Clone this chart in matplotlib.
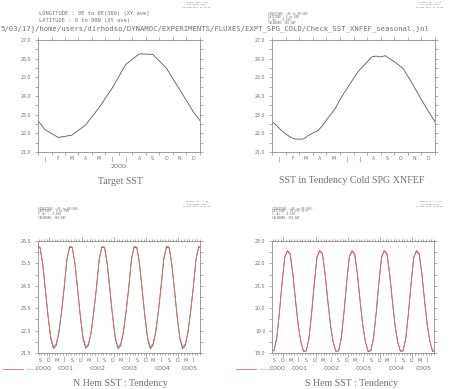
import numpy as np
import matplotlib
matplotlib.use('Agg')
import matplotlib.pyplot as plt
from matplotlib.ticker import MultipleLocator
from matplotlib.transforms import blended_transform_factory, offset_copy
from matplotlib.lines import Line2D

# ---------------- data ----------------
months = ['J', 'F', 'M', 'A', 'M', 'J', 'J', 'A', 'S', 'O', 'N', 'D']
# Target SST (N Hem climatology, mid-month values) and value at year boundary
target_nh = [22.21, 21.78, 21.90, 22.43, 23.35, 24.43, 25.69, 26.26, 26.23, 25.50, 24.34, 23.16]
target_nh_edge = 22.68
# SST in Tendency Cold SPG XNFEF (every 1/3 month, Jan 1 -> Dec 31)
tend_sst = [22.62, 22.43, 22.17, 21.97, 21.81, 21.70, 21.69, 21.70, 21.88, 22.02,
            22.12, 22.36, 22.71, 23.02, 23.35, 23.80, 24.19, 24.56, 24.94, 25.30,
            25.57, 25.82, 26.09, 26.14, 26.09, 26.16, 26.00, 25.84, 25.66, 25.46,
            25.06, 24.66, 24.23, 23.80, 23.40, 22.99, 22.62]
# S Hem target climatology (mid-month)
target_sh = [22.30, 22.58, 22.45, 21.55, 20.35, 19.25, 18.50, 18.08, 18.10, 18.65, 19.80, 21.15]

# Model (tendency) monthly series, Jul 0000 .. Oct 0005
model_nh = [25.66, 26.22, 26.20, 25.47, 24.31, 23.12,
            22.14, 21.70, 21.83, 22.40, 23.33, 24.42, 25.67, 26.23, 26.20, 25.48, 24.31, 23.13,
            22.13, 21.71, 21.84, 22.40, 23.34, 24.41, 25.68, 26.22, 26.21, 25.47, 24.32, 23.12,
            22.14, 21.70, 21.83, 22.41, 23.33, 24.42, 25.67, 26.23, 26.20, 25.48, 24.31, 23.13,
            22.13, 21.69, 21.84, 22.40, 23.34, 24.42, 25.68, 26.22, 26.21, 25.47, 24.31, 23.12,
            22.14, 21.70, 21.83, 22.41, 23.33, 24.41, 25.67, 26.23, 26.20, 25.48]
model_sh = [18.52, 18.10, 18.12, 18.66, 19.78, 21.12,
            22.28, 22.55, 22.40, 21.52, 20.33, 19.24, 18.49, 18.07, 18.09, 18.64, 19.79, 21.13,
            22.27, 22.56, 22.41, 21.53, 20.34, 19.23, 18.48, 18.08, 18.09, 18.65, 19.78, 21.12,
            22.28, 22.55, 22.40, 21.52, 20.33, 19.24, 18.49, 18.07, 18.10, 18.64, 19.79, 21.13,
            22.27, 22.56, 22.41, 21.53, 20.34, 19.24, 18.48, 18.08, 18.09, 18.65, 19.78, 21.12,
            22.28, 22.55, 22.40, 21.52, 20.33, 19.24, 18.49, 18.07, 18.09, 18.64]
first_month = -6          # Jul 0000 relative to Jan 0001
time_lim = (-4.25, 56.0)  # months relative to Jan 0001
years = ['0000', '0001', '0002', '0003', '0004', '0005']
qmonths = ['S', 'D', 'M', 'J']

# ---------------- figure ----------------
W, H = 452, 389
fig = plt.figure(figsize=(W / 100, H / 100), dpi=100)
TXT = '#707070'
AXC = '#8c8c8c'
LINE = '#585858'
RED = '#e07070'


def axes_px(x0, y0, x1, y1):
    return fig.add_axes([x0 / W, 1 - y1 / H, (x1 - x0) / W, (y1 - y0) / H])


def ftext(x, y, s, size, ha='left', va='center', family='DejaVu Sans', **kw):
    fig.text(x / W, 1 - y / H, s, fontsize=size, ha=ha, va=va, color=TXT,
             family=family, **kw)


def style(ax, ymin, ymax):
    for sp in ax.spines.values():
        sp.set_color(AXC)
        sp.set_linewidth(0.6)
    ax.set_ylim(ymin, ymax)
    ax.set_yticks(np.arange(ymin, ymax + 0.01, 1.0))
    ax.set_yticklabels(['%.1f' % v for v in np.arange(ymin, ymax + 0.01, 1.0)])
    ax.yaxis.set_minor_locator(MultipleLocator(0.5))
    ax.tick_params(which='both', direction='out', colors=AXC, labelcolor=TXT,
                   labelsize=3.4, width=0.5, top=True, right=True, pad=2.2)
    ax.tick_params(which='major', length=2.5)
    ax.tick_params(which='minor', length=2.0)


def below(ax, x, s, dy, size, family='DejaVu Sans'):
    tr = offset_copy(blended_transform_factory(ax.transData, ax.transAxes),
                     fig=fig, x=0, y=-dy, units='dots')
    ax.text(x, 0, s, transform=tr, ha='center', va='center', fontsize=size,
            color=TXT, family=family, clip_on=False)


# ---- top-left: Target SST ----
ax1 = axes_px(38, 40, 200, 152)
x1 = [0] + list(np.arange(0.5, 12)) + [12]
ax1.plot(x1, [target_nh_edge] + target_nh + [target_nh_edge], color=LINE, lw=0.6)
ax1.set_xlim(0, 12)
style(ax1, 21.0, 27.0)
ax1.set_xticks(np.arange(13))
ax1.set_xticklabels([])
ax1.xaxis.set_minor_locator(MultipleLocator(100))
for i, m in enumerate(months):
    below(ax1, i + 0.5, m, 7, 3.4)
below(ax1, 6, '2000', 15, 4.6)

# ---- top-right: SST in Tendency ----
ax2 = axes_px(272, 40, 435, 152)
ax2.plot(np.linspace(0, 12, len(tend_sst)), tend_sst, color=LINE, lw=0.6)
ax2.set_xlim(0, 12)
style(ax2, 21.0, 27.0)
ax2.set_xticks(np.arange(13))
ax2.set_xticklabels([])
ax2.xaxis.set_minor_locator(MultipleLocator(100))
for i, m in enumerate(months):
    below(ax2, i + 0.5, m, 7, 3.4)


# ---- bottom panels ----
def time_panel(x0, x1, target, model, ymin, ymax):
    ax = axes_px(x0, 241, x1, 353)
    n = len(model)
    t = np.arange(first_month, first_month + n) + 0.5
    tgt = [target[(first_month + k) % 12] for k in range(n)]
    ax.plot(t, model, color=LINE, lw=0.6)
    ax.plot(t, tgt, color=RED, lw=0.6)
    ax.set_xlim(*time_lim)
    style(ax, ymin, ymax)
    ax.set_xticks([0, 12, 24, 36, 48])
    ax.set_xticklabels([])
    ax.xaxis.set_minor_locator(MultipleLocator(1))
    ax.tick_params(axis='x', which='minor', length=1.5)
    ax.tick_params(axis='x', which='major', length=3)
    # quarter month letters (Sep, Dec, Mar, Jun)
    pos = np.arange(-3.5, time_lim[1], 3)
    for k, p in enumerate(pos):
        if time_lim[0] < p < time_lim[1]:
            below(ax, p, qmonths[k % 4], 7, 3.4)
    # year labels at centre of visible part
    for k, y in enumerate(years):
        a = max(12 * (k - 1), time_lim[0])
        b = min(12 * k, time_lim[1])
        below(ax, (a + b) / 2, y, 15, 4.6)
    return ax


ax3 = time_panel(38, 200, target_nh, model_nh, 21.5, 26.5)
ax4 = time_panel(272, 434, target_sh, model_sh, 18.0, 23.0)

# ---------------- titles ----------------
ftext(120, 181.5, 'Target SST', 7.2, ha='center', family='Liberation Serif')
ftext(352, 180.5, 'SST in Tendency Cold SPG XNFEF', 7.2, ha='center', family='Liberation Serif')
ftext(120, 383, 'N Hem SST : Tendency', 7.2, ha='center', family='Liberation Serif')
ftext(352, 383, 'S Hem SST : Tendency', 7.2, ha='center', family='Liberation Serif')

# ---------------- headers ----------------
ftext(0, 29, '5/03/17]/home/users/dirhodso/DYNAMOC/EXPERIMENTS/FLUXES/EXPT_SPG_COLD/Check_SST_XNFEF_seasonal.jnl',
      5.25, ha='left', family='DejaVu Sans Mono')
ftext(39, 14, 'LONGITUDE : 0E to 0E(360) (XY ave)', 3.9, family='DejaVu Sans Mono')
ftext(39, 20.5, 'LATITUDE : 0 to 90N (XY ave)', 3.9, family='DejaVu Sans Mono')

hdr_tr = ['LONGITUDE : 0E to 0E(360)', 'LATITUDE : 0 to 80N', 'Z (m) : -0.638', 'CALENDAR: 360_DAY']
hdr_bl = ['LONGITUDE : 0E to 0E(360)', 'LATITUDE : 0 to 90N', 'Z (m) : -0.638', 'CALENDAR: 360_DAY']
hdr_br = ['LONGITUDE : 0E to 0E(360)', 'LATITUDE : 78.25S to 0', 'Z (m) : -0.638', 'CALENDAR: 360_DAY']
for i, s in enumerate(hdr_tr):
    ftext(268, 14.2 + 2.9 * i, s, 2.0, family='DejaVu Sans Mono')
for i, s in enumerate(hdr_bl):
    ftext(38, 208.5 + 2.9 * i, s, 2.0, family='DejaVu Sans Mono')
for i, s in enumerate(hdr_br):
    ftext(272, 208.5 + 2.9 * i, s, 2.0, family='DejaVu Sans Mono')

stamps = [(197, 2, '11:46:46'), (430, 2, '11:46:56'), (197, 201.5, '11:41:34'), (430, 201.5, '11:46:01')]
for x, y, tm in stamps:
    ftext(x, y, 'FERRET Ver. 6.93', 1.6, ha='center', family='DejaVu Sans Mono')
    ftext(x, y + 2.6, 'NOAA/PMEL TMAP', 1.6, ha='center', family='DejaVu Sans Mono')
    ftext(x, y + 5.2, '26-MAR-2017 ' + tm, 1.6, ha='center', family='DejaVu Sans Mono')

# ---------------- legends ----------------
for lx in (3, 236):
    fig.add_artist(Line2D([lx / W, (lx + 20) / W], [1 - 369 / H] * 2, color=RED, lw=0.6))
    ftext(lx + 23, 369.5, 'Target SST', 1.5, family='DejaVu Sans')

fig.savefig('out.png', dpi=100)
